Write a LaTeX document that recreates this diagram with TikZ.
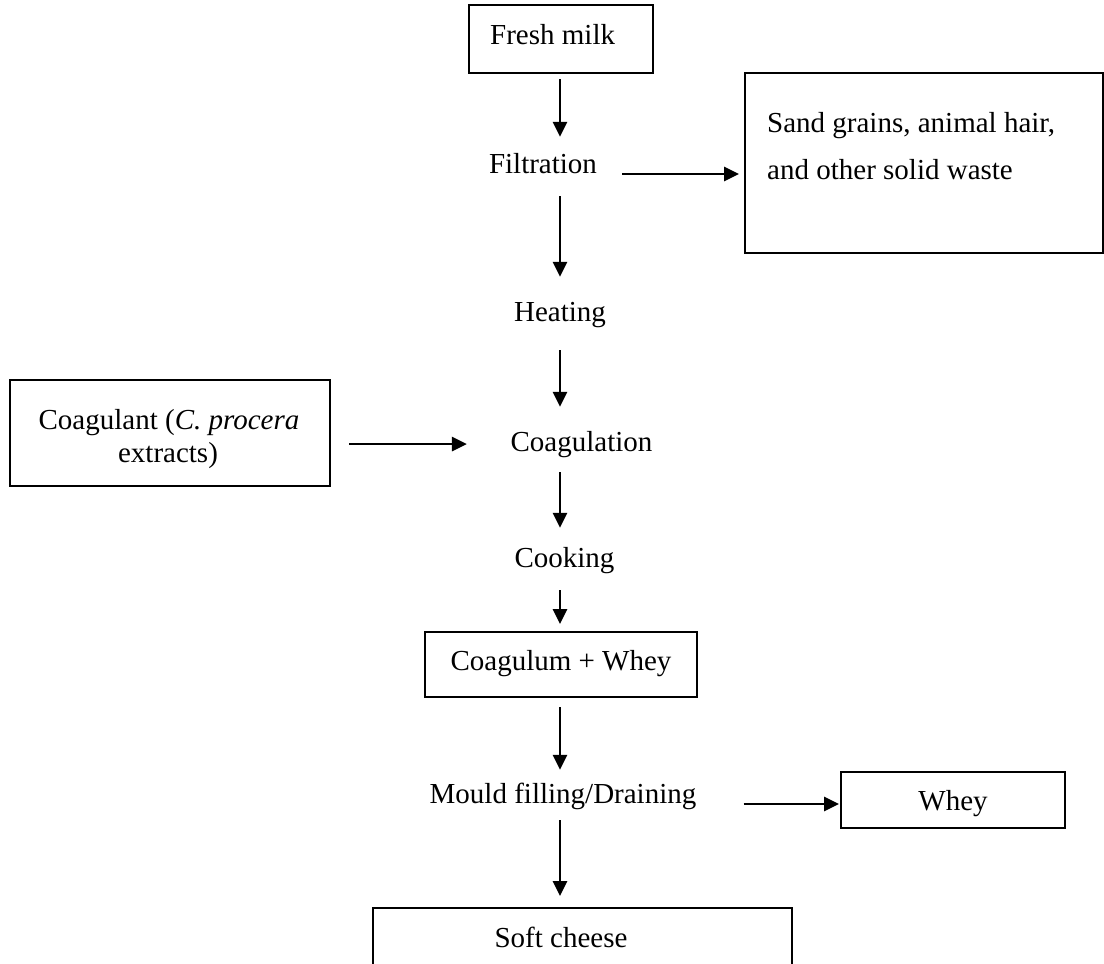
\documentclass[tikz,border=0pt]{standalone}
\usepackage{fontspec}
\setmainfont{Liberation Serif}
\usetikzlibrary{arrows.meta,calc}
\tikzset{
  box/.style={draw, line width=2pt, inner sep=0pt},
  lbl/.style={inner sep=0pt, text height=20pt, text depth=7pt},
  flow/.style={line width=2.8pt, -{Triangle[length=15pt,width=14pt]}},
}
\begin{document}
\begin{tikzpicture}[x=1pt,y=-1pt,font=\fontsize{29}{33}\selectfont]
\useasboundingbox (0,0) rectangle (1104,964);
\clip (0,0) rectangle (1104,964);

% main column
\coordinate (col) at (560,0);

% boxes
\node[box, minimum width=184pt, minimum height=68pt] (milk) at (561,39) {};
\node[box, minimum width=358pt, minimum height=180pt] (waste) at (924,163) {};
\node[box, minimum width=320pt, minimum height=106pt] (coag) at (170,433) {};
\node[box, minimum width=272pt, minimum height=65pt] (curd) at (561,664.5) {};
\node[box, minimum width=224pt, minimum height=56pt] (whey) at (953,800) {};
\node[box, minimum width=419pt, minimum height=92pt] (cheese) at (582.5,954) {};

% box texts
\node[lbl, anchor=base west] (milkT) at (490,44) {Fresh milk};
\node[lbl, anchor=base west] (wasteA) at (767,132) {Sand grains, animal hair,};
\node[lbl, anchor=base west] (wasteB) at (767,179) {and other solid waste};
\node[lbl, anchor=base] (coagA) at (169,429) {Coagulant (\textit{C. procera}};
\node[lbl, anchor=base] (coagB) at (168,462) {extracts)};
\node[lbl, anchor=base] (curdT) at (561,670) {Coagulum + Whey};
\node[lbl, anchor=base] (wheyT) at (953,810) {Whey};
\node[lbl, anchor=base] (cheeseT) at (561,947) {Soft cheese};

% process steps
\node[lbl, anchor=base] (filt) at (543,173) {Filtration};
\node[lbl, anchor=base] (heat) at (560,321) {Heating};
\node[lbl, anchor=base] (coagn) at (581.5,451) {Coagulation};
\node[lbl, anchor=base] (cook) at (564.5,567) {Cooking};
\node[lbl, anchor=base] (mould) at (563,803) {Mould filling/Draining};

% vertical flow
\draw[flow] ($(col |- milk.south)+(0,5)$) -- ($(col |- filt.north)+(0,-16)$);
\draw[flow] ($(col |- filt.south)+(0,16)$) -- ($(col |- heat.north)+(0,-24)$);
\draw[flow] ($(col |- heat.south)+(0,22)$) -- ($(col |- coagn.north)+(0,-24)$);
\draw[flow] ($(col |- coagn.south)+(0,14)$) -- ($(col |- cook.north)+(0,-19)$);
\draw[flow] ($(col |- cook.south)+(0,16)$) -- ($(col |- curd.north)+(0,-7)$);
\draw[flow] ($(col |- curd.south)+(0,9)$) -- ($(col |- mould.north)+(0,-13)$);
\draw[flow] ($(col |- mould.south)+(0,10)$) -- ($(col |- cheese.north)+(0,-11)$);

% side flows
\draw[flow] ($(filt.east)+(25,7.5)$) -- ($(waste.west |- filt.east)+(-5,7.5)$);
\draw[flow] ($(coag.east)+(18,11)$) -- ($(coagn.west |- coag.east)+(-43.5,11)$);
\draw[flow] ($(mould.east)+(47,7.5)$) -- ($(whey.west |- mould.east)+(-1,7.5)$);
\end{tikzpicture}
\end{document}
